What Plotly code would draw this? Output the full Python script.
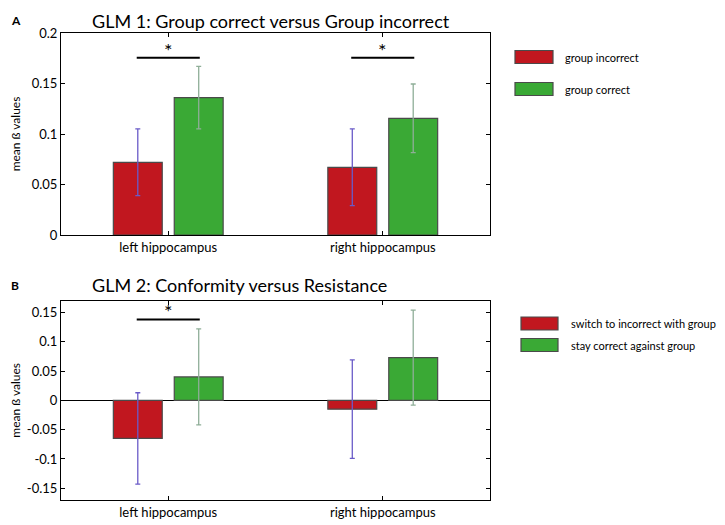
import plotly.graph_objects as go

# ---------------- data ----------------
categories = ["left hippocampus", "right hippocampus"]

glm1_names = ["group incorrect", "group correct"]
glm1_incorrect = [0.072, 0.067]
glm1_incorrect_err = [0.033, 0.038]
glm1_correct = [0.136, 0.1155]
glm1_correct_err = [0.031, 0.034]
glm1_sig_y = [0.1755, 0.1755]          # significance bar heights per category
glm1_sig_cats = [0, 1]

glm2_names = ["switch to incorrect with group", "stay correct against group"]
glm2_switch = [-0.065, -0.015]
glm2_switch_err = [0.078, 0.084]
glm2_stay = [0.040, 0.073]
glm2_stay_err = [0.082, 0.081]
glm2_sig_y = [0.138]
glm2_sig_cats = [0]

yticks_a = [0, 0.05, 0.1, 0.15, 0.2]
yticklabels_a = ["0", "0.05", "0.1", "0.15", "0.2"]
yticks_b = [-0.15, -0.1, -0.05, 0, 0.05, 0.1, 0.15]
yticklabels_b = ["-0.15", "-0.1", "-0.05", "0", "0.05", "0.1", "0.15"]

titles = ["GLM 1: Group correct versus Group incorrect", "GLM 2: Conformity versus Resistance"]
panel_labels = ["A", "B"]

# ---------------- style ----------------
RED = "#c1171f"
GREEN = "#3aa935"
RED_ERR = "#6a5bc8"
GREEN_ERR = "#8fae98"
OUTLINE = "#4a4a4a"
FONT = "Lato"
PAGE_W, PAGE_H = 725, 525
PAD = 8                      # default page body margin
W, H = PAGE_W - PAD, PAGE_H - PAD


def px(x):
    return (x - PAD) / W


def py(y):
    return 1 - (y - PAD) / H


BAR_W = 0.228
OFF = 0.142

fig = go.Figure()


def add_pair(vals1, err1, vals2, err2, xa, ya):
    xs = list(range(len(categories)))
    fig.add_trace(go.Bar(
        x=xs, y=vals1, width=BAR_W, offset=-OFF - BAR_W / 2,
        marker=dict(color=RED, line=dict(color=OUTLINE, width=1.2)),
        error_y=dict(type="data", array=err1, color=RED_ERR, thickness=1.3, width=2.5),
        xaxis=xa, yaxis=ya, showlegend=False))
    fig.add_trace(go.Bar(
        x=xs, y=vals2, width=BAR_W, offset=OFF - BAR_W / 2,
        marker=dict(color=GREEN, line=dict(color=OUTLINE, width=1.2)),
        error_y=dict(type="data", array=err2, color=GREEN_ERR, thickness=1.3, width=2.5),
        xaxis=xa, yaxis=ya, showlegend=False))


add_pair(glm1_incorrect, glm1_incorrect_err, glm1_correct, glm1_correct_err, "x", "y")
add_pair(glm2_switch, glm2_switch_err, glm2_stay, glm2_stay_err, "x2", "y2")

# significance markers
for cats, ys, xr, yr in [(glm1_sig_cats, glm1_sig_y, "x", "y"), (glm2_sig_cats, glm2_sig_y, "x2", "y2")]:
    for c, yv in zip(cats, ys):
        fig.add_shape(type="line", xref=xr, yref=yr, x0=c - OFF - 0.005, x1=c + OFF + 0.005,
                      y0=yv, y1=yv, line=dict(color="black", width=2))
        fig.add_annotation(xref=xr, yref=yr, x=c, y=yv, text="*", showarrow=False,
                           yanchor="bottom", yshift=-6, font=dict(size=20, color="black", family=FONT))

x_dom = [px(61), px(490)]
dom_a = [py(235), py(33)]
dom_b = [py(500), py(300.7)]

axis_common = dict(showline=True, linecolor="black", linewidth=1, mirror="ticks",
                   ticks="inside", ticklen=4, tickcolor="black", showgrid=False,
                   automargin=False,
                   tickfont=dict(size=13, color="black", family=FONT))

fig.update_layout(
    width=W, height=H, margin=dict(l=0, r=0, t=0, b=0),
    paper_bgcolor="white", plot_bgcolor="white",
    font=dict(family=FONT, color="black"),
    xaxis=dict(domain=x_dom, range=[-0.5, 1.5], tickvals=[0, 1], ticktext=categories,
               anchor="y", zeroline=False, **axis_common),
    yaxis=dict(domain=dom_a, range=[0, 0.2], tickvals=yticks_a, ticktext=yticklabels_a,
               anchor="x", zeroline=False,
               title=dict(text="mean ß values", font=dict(size=12, family=FONT), standoff=8),
               **axis_common),
    xaxis2=dict(domain=x_dom, range=[-0.5, 1.5], tickvals=[0, 1], ticktext=categories,
                anchor="y2", zeroline=False, **axis_common),
    yaxis2=dict(domain=dom_b, range=[-0.17, 0.17], tickvals=yticks_b, ticktext=yticklabels_b,
                anchor="x2", zeroline=True, zerolinecolor="black", zerolinewidth=1,
                title=dict(text="mean ß values", font=dict(size=12, family=FONT), standoff=8),
                **axis_common),
)

# titles and panel letters (panel A title sits at the very top of the page)
title_specs = [(titles[0], 8, "top", 18), (titles[1], 285, "middle", 18)]
for i, (t, ylab, anchor, fs) in enumerate(title_specs):
    fig.add_annotation(xref="paper", yref="paper", x=px(90), y=py(ylab), text=t,
                       showarrow=False, xanchor="left", yanchor=anchor,
                       font=dict(size=fs, family=FONT, color="black"))
    fig.add_annotation(xref="paper", yref="paper", x=px(9), y=py(ylab),
                       text="<b>%s</b>" % panel_labels[i], showarrow=False,
                       xanchor="left", yanchor=anchor, yshift=-3 if anchor == "top" else 0,
                       font=dict(size=12, family=FONT, color="black"))

# legends (drawn as patches + labels)
legend_specs = [
    (glm1_names, 515, 553, [57, 89], 563),
    (glm2_names, 521, 558, [323.5, 345], 569),
]
for names, x0, x1, ycs, xt in legend_specs:
    for name, col, yc in zip(names, [RED, GREEN], ycs):
        fig.add_shape(type="rect", xref="paper", yref="paper",
                      x0=px(x0), x1=px(x1), y0=py(yc + 6.5), y1=py(yc - 6.5),
                      fillcolor=col, line=dict(color=OUTLINE, width=1.2))
        fig.add_annotation(xref="paper", yref="paper", x=px(xt), y=py(yc), text=name,
                           showarrow=False, xanchor="left", yanchor="middle",
                           font=dict(size=11, family=FONT, color="black"))

fig.write_html("out.html")
